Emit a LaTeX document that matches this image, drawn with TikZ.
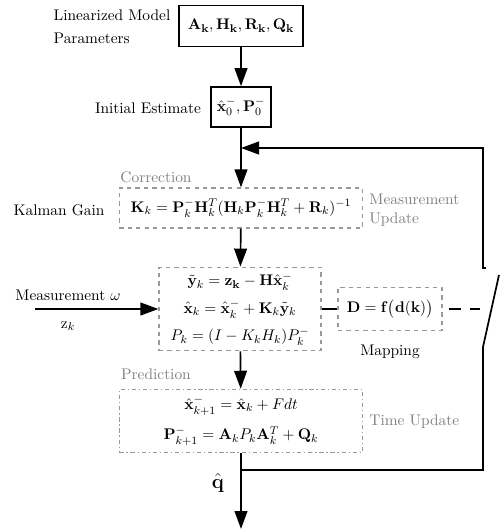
\documentclass[tikz,border=0pt,11pt]{standalone}
\usepackage{amsmath}
\usepackage{xcolor}
\usepackage{tikz}
\usetikzlibrary{positioning, arrows.meta, calc}
\definecolor{labelgray}{gray}{0.5}

\begin{document}
\begin{tikzpicture}[x=0.025cm, y=-0.025cm,
    solidbox/.style={draw, line width=1.2pt, inner sep=2pt},
    dashbox/.style={draw=gray!80, dashed, line width=0.9pt, align=center},
    graytext/.style={text=labelgray},
    flow/.style={line width=1.2pt, -{Triangle[length=4.5mm, width=3.2mm]}},
    wire/.style={line width=1.2pt}]
      \useasboundingbox (0,0) rectangle (500,529);

      % Model and initial estimate
      \node[solidbox, minimum width=3.1cm, minimum height=1.03cm] (params) at (241,26) {$\mathbf{A_k},\mathbf{H_k},\mathbf{R_k},\mathbf{Q_k}$};
      \node[align=left] (paramslbl) at (112,27) {Linearized Model\\[3pt]Parameters};
      \node[solidbox, minimum width=1.5cm, minimum height=1cm] (init) at (241,107) {$\hat{\mathbf{x}}_0^-,\mathbf{P}_0^-$};
      \node (initlbl) at (148,108) {Initial Estimate};

      % Correction step
      \node[graytext] (corrlbl) at (156,177) {Correction};
      \node[dashbox, minimum width=6.08cm, minimum height=1cm] (gain) at (241,208) {$\mathbf{K}_k=\mathbf{P}_k^-\mathbf{H}_k^T(\mathbf{H}_k\mathbf{P}_k^-\mathbf{H}_k^T+\mathbf{R}_k)^{-1}$};
      \node[graytext, align=left, anchor=west] (measupd) at (364,210) {Measurement\\Update};
      \node (gainlbl) at (59,210) {Kalman Gain};

      \node[dashbox, minimum width=4.05cm, minimum height=2.05cm] (update) at (240,309) {$\tilde{\mathbf{y}}_k=\mathbf{z_k}-\mathbf{H}\hat{\mathbf{x}}_k^-$\\[6pt]
        $\hat{\mathbf{x}}_k=\hat{\mathbf{x}}_k^-+\mathbf{K}_k\tilde{\mathbf{y}}_k$\\[6pt]
        $P_k=(I-K_kH_k)P_k^-$};
      \node (measlbl) at (68,295) {Measurement $\omega$};
      \node (zlbl) at (68,326) {$\mathrm{z}_k$};
      \node[dashbox, minimum width=2.6cm, minimum height=1.08cm] (map) at (390,309) {$\mathbf{D}=\mathbf{f}\big(\mathbf{d}(\mathbf{k})\big)$};
      \node (maplbl) at (390,352) {Mapping};

      % Prediction step
      \node[graytext] (predlbl) at (156,374) {Prediction};
      \node[dashbox, dash dot, minimum width=6.08cm, minimum height=1.58cm] (predict) at (241,421) {$\hat{\mathbf{x}}_{k+1}^-=\hat{\mathbf{x}}_k+Fdt$\\[7pt]
        $\mathbf{P}_{k+1}^-=\mathbf{A}_kP_k\mathbf{A}_k^T+\mathbf{Q}_k$};
      \node[graytext, anchor=west] (timeupd) at (364,422) {Time Update};
      \node (qhat) at (218,483) {\Large$\hat{\mathbf{q}}$};

      % Coordinates for the loop
      \coordinate (meas) at (35,309);
      \coordinate (out) at (241,529);
      \coordinate (join) at (241,470);
      \coordinate (swlow) at (483,347);
      \coordinate (swtip) at (499,275);
      \coordinate (swhigh) at (483,268);
      \coordinate (swtick) at (486,268);
      \coordinate (fbin) at (241,148);
      \coordinate (swin) at (480,309);

      % Main flow
      \draw[flow] (params) -- (init);
      \draw[flow] (init) -- (gain);
      \draw[flow] (gain) -- (update);
      \draw[flow] (update) -- (predict);
      \draw[flow] (predict) -- (out);
      \draw[flow] (meas) -- (update);
      \draw[wire] (update) -- (map);
      \draw[wire, dash pattern=on 8pt off 7pt, shorten <=4\pgflinewidth] (map) -- (swin);

      % Feedback through the switch
      \draw[wire] (join) -| (swlow) -- (swtip);
      \draw[flow] (swtick) -- (swhigh) |- (fbin);
\end{tikzpicture}
\end{document}
